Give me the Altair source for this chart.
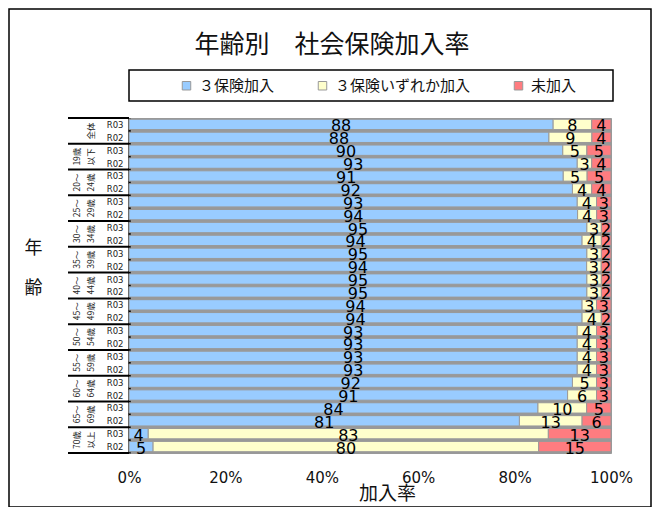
import altair as alt
import pandas as pd

title_text = "年齢別　社会保険加入率"
x_title = "加入率"
y_title = ["年", "齢"]

group_line1 = ["", "19歳", "20～", "25～", "30～", "35～", "40～", "45～", "50～", "55～", "60～", "65～", "70歳"]
group_line2 = ["全体", "以下", "24歳", "29歳", "34歳", "39歳", "44歳", "49歳", "54歳", "59歳", "64歳", "69歳", "以上"]
years = ["R03", "R02"]
categories = ["３保険加入", "３保険いずれか加入", "未加入"]
colors = ["#99CCFF", "#FFFFCC", "#FF7C80"]

all3 = [88, 88, 90, 93, 91, 92, 93, 94, 95, 94, 95, 94, 95, 95, 94, 94, 93, 93, 93, 93, 92, 91, 84, 81, 4, 5]
some = [8, 9, 5, 3, 5, 4, 4, 4, 3, 4, 3, 3, 3, 3, 3, 4, 4, 4, 4, 4, 5, 6, 10, 13, 83, 80]
none_ = [4, 4, 5, 4, 5, 4, 3, 3, 2, 2, 2, 2, 2, 2, 3, 2, 3, 3, 3, 3, 3, 3, 5, 6, 13, 15]

x_ticks = [0, 0.2, 0.4, 0.6, 0.8, 1.0]

n_rows = len(all3)
series = [all3, some, none_]
records = []
for i in range(n_rows):
    for c, cat in enumerate(categories):
        records.append({"idx": i, "cat": cat, "order": c, "value": series[c][i]})
df = pd.DataFrame(records)

gdf = pd.DataFrame({"g": list(range(len(group_line2))), "line1": group_line1, "line2": group_line2})
bdf = pd.DataFrame({"b": list(range(len(group_line2) + 1))})

yscale = alt.Scale(domain=[-0.5, n_rows - 0.5], reverse=True, nice=False, zero=False)
xscale = alt.Scale(domain=[0, 1], nice=False)

label_expr = f"datum.value % 2 == 0 ? '{years[0]}' : '{years[1]}'"

x_axis = alt.Axis(
    values=x_ticks, format="%", ticks=False, grid=False, domain=False,
    labelFont="DejaVu Sans", labelFontSize=15, labelColor="#111", labelPadding=17,
    labelFlush=False, title=x_title, titleFont="Noto Sans CJK JP", titleFontSize=19,
    titleFontWeight="normal", titleColor="#111", titleX=258, titleY=40,
    titleAlign="center", titleBaseline="middle")
y_axis = alt.Axis(
    values=list(range(n_rows)), labelExpr=label_expr, ticks=False, grid=False,
    domain=True, domainColor="black", domainWidth=2.5, labelOverlap=False,
    labelFlush=False, labelFont="DejaVu Sans", labelFontSize=8.5, labelColor="#222",
    labelPadding=6, title=y_title, titleAngle=0, titleFont="Noto Sans CJK JP",
    titleFontSize=18, titleFontWeight="normal", titleColor="#111", titleLineHeight=40,
    titleX=-96, titleY=130, titleAlign="center", titleBaseline="middle")

stacked = alt.Chart(df).transform_stack(
    stack="value", groupby=["idx"], as_=["x0", "x1"], offset="normalize",
    sort=[alt.SortField("order", order="ascending")]
)

bars = stacked.transform_calculate(
    y0="datum.idx - 0.4", y1="datum.idx + 0.4"
).mark_rect(stroke="#999999", strokeWidth=1).encode(
    x=alt.X("x0:Q", scale=xscale, axis=x_axis),
    x2="x1:Q",
    y=alt.Y("y0:Q", scale=yscale, axis=y_axis),
    y2="y1:Q",
    color=alt.Color("cat:N", scale=alt.Scale(domain=categories, range=colors),
                    sort=categories,
                    legend=alt.Legend(orient="none", legendX=50, legendY=-40,
                                      direction="horizontal", title=None,
                                      symbolType="square", symbolSize=72,
                                      symbolStrokeColor="#999999", symbolStrokeWidth=1,
                                      labelFont="Noto Sans CJK JP", labelFontSize=15,
                                      labelColor="#111", columnPadding=40, labelOffset=5,
                                      padding=0)),
)

labels = stacked.transform_calculate(
    xm="(datum.x0 + datum.x1) / 2"
).mark_text(font="DejaVu Sans", fontSize=16, color="black", dy=2,
            align="center", baseline="middle").encode(
    x=alt.X("xm:Q", scale=xscale, axis=x_axis),
    y=alt.Y("idx:Q", scale=yscale, axis=y_axis),
    text="value:Q",
)

seps = alt.Chart(bdf).transform_calculate(yb="2 * datum.b - 0.5").mark_rule(
    color="black", strokeWidth=2).encode(
    y=alt.Y("yb:Q", scale=yscale, axis=y_axis),
    x=alt.value(-61), x2=alt.value(0),
)

grp_base = alt.Chart(gdf).transform_calculate(ym="2 * datum.g + 0.5")
grp1 = grp_base.mark_text(font="Noto Sans CJK JP", fontSize=8.5, angle=270,
                          align="center", baseline="middle", color="#222").encode(
    x=alt.value(-52), y=alt.Y("ym:Q", scale=yscale, axis=y_axis), text="line1:N")
grp2 = grp_base.mark_text(font="Noto Sans CJK JP", fontSize=8.5, angle=270,
                          align="center", baseline="middle", color="#222").encode(
    x=alt.value(-38), y=alt.Y("ym:Q", scale=yscale, axis=y_axis), text="line2:N")

one = alt.Data(values=[{"t": title_text}])
border = alt.Chart(one).mark_rect(fillOpacity=0, stroke="black", strokeWidth=1.5).encode(
    x=alt.value(-120), x2=alt.value(522), y=alt.value(-109), y2=alt.value(389))
legend_box = alt.Chart(one).mark_rect(fill="white", stroke="black", strokeWidth=1.5).encode(
    x=alt.value(0), x2=alt.value(484), y=alt.value(-48), y2=alt.value(-17))
title_mark = alt.Chart(one).mark_text(font="Noto Sans CJK JP", fontSize=25, color="#111",
                                      align="center", baseline="middle").encode(
    text="t:N", x=alt.value(203), y=alt.value(-73))

chart = alt.layer(bars, labels, seps, grp1, grp2, border, legend_box, title_mark).properties(
    width=482, height=335,
    padding={"left": 121, "top": 110, "right": 41, "bottom": 54},
    autosize=alt.AutoSizeParams(type="none"),
    background="white",
).configure_view(fill="#999999", stroke="#999999", strokeWidth=1)

chart.save("out.html", embed_options={"renderer": "svg", "actions": False})
